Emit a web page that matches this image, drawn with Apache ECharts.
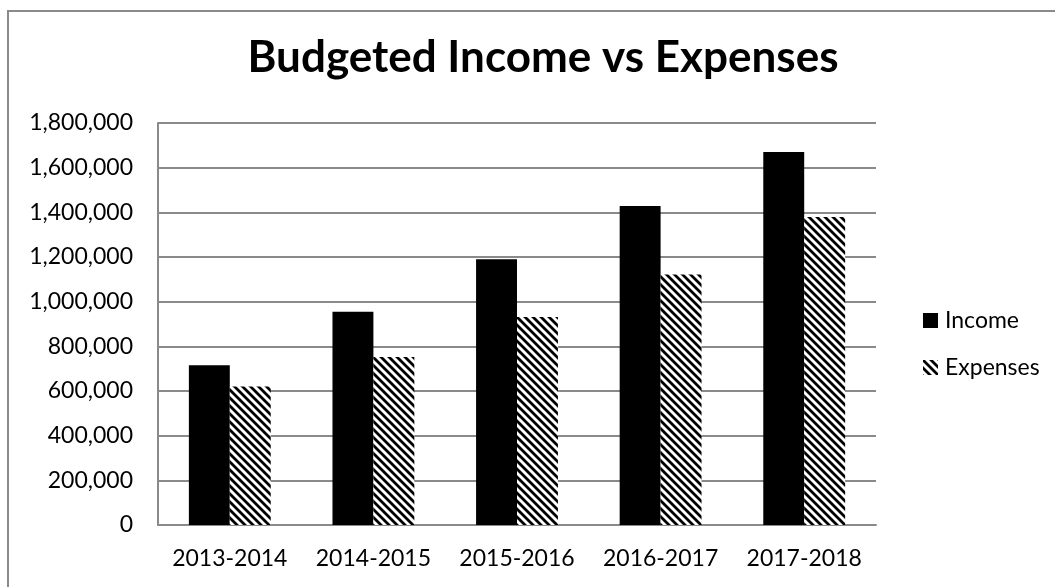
<!DOCTYPE html>
<html><head><meta charset="utf-8">
<script src="https://cdn.jsdelivr.net/npm/echarts@6/dist/echarts.min.js"></script>
<style>html,body{margin:0;padding:0;background:#fff}#c{width:1055px;height:587px}</style>
</head><body><div id="c"></div>
<script>
const categories = ['2013-2014','2014-2015','2015-2016','2016-2017','2017-2018'];
const income = [715000, 955000, 1190000, 1428000, 1670000];
const expenses = [620000, 752000, 931000, 1122000, 1379000];
const yTicks = [0, 200000, 400000, 600000, 800000, 1000000, 1200000, 1400000, 1600000, 1800000];

function hatch() {
  const c = document.createElement('canvas');
  c.width = 8; c.height = 8;
  const g = c.getContext('2d');
  g.fillStyle = '#fff'; g.fillRect(0,0,8,8);
  g.strokeStyle = '#000'; g.lineWidth = 2.8;
  g.beginPath();
  g.moveTo(-2,-2); g.lineTo(10,10);
  g.moveTo(-10,-2); g.lineTo(2,10);
  g.moveTo(6,-2); g.lineTo(18,10);
  g.stroke();
  return c;
}
const pattern = {image: hatch(), repeat: 'repeat'};
const font = 'Lato';
const chart = echarts.init(document.getElementById('c'));
chart.setOption({
  animation: false,
  backgroundColor: '#fff',
  graphic: [{type:'rect', shape:{x:8, y:11, width:1100, height:700}, style:{fill:'none', stroke:'#8a8a8a', lineWidth:2}}],
  title: {text:'Budgeted Income vs Expenses', left: 538, top: 31, textAlign:'center',
    textStyle:{fontFamily:font, fontWeight:'bold', fontSize:44, color:'#000'}},
  legend: {orient:'vertical', left: 918, top: 304, itemWidth:15, itemHeight:15, itemGap:24, itemStyle:{borderWidth:0}, icon:'rect',
    textStyle:{fontFamily:font, fontSize:23, color:'#000', padding:[0,0,0,2]}, data:['Income','Expenses']},
  grid: {left:158, right:179, top:123, bottom:62},
  xAxis: {type:'category', data:categories,
    axisLine:{lineStyle:{color:'#8a8a8a', width:2}}, axisTick:{show:false},
    axisLabel:{interval:0, fontFamily:font, fontSize:23, color:'#000', margin:22}},
  yAxis: {type:'value', min:yTicks[0], max:yTicks[yTicks.length-1], interval:yTicks[1]-yTicks[0],
    axisLine:{show:true, lineStyle:{color:'#8a8a8a', width:2}}, axisTick:{show:false},
    splitLine:{lineStyle:{color:'#8a8a8a', width:2}},
    axisLabel:{fontFamily:font, fontSize:23, color:'#000', margin:25,
      formatter: v => v.toLocaleString('en-US')}},
  series: [
    {name:'Income', type:'bar', data:income, barGap:'0%', barCategoryGap:'43%',
      itemStyle:{color:'#000'}},
    {name:'Expenses', type:'bar', data:expenses, itemStyle:{color:pattern}}
  ]
});
</script></body></html>
